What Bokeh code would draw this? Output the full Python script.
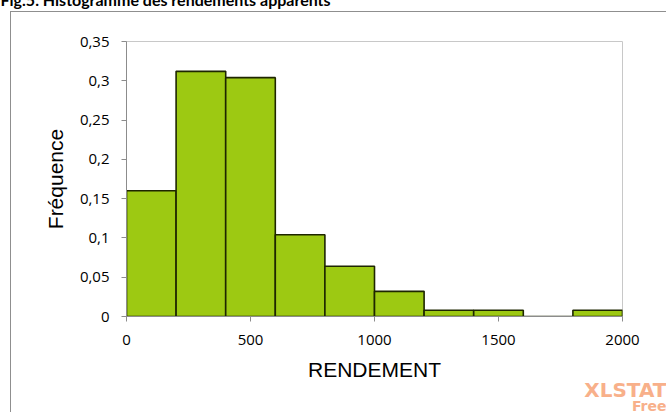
from bokeh.plotting import figure
from bokeh.models import FixedTicker, Range1d, Title
from bokeh.embed import file_html
from bokeh.resources import INLINE

# ---- data ----
bin_left = [0, 200, 400, 600, 800, 1000, 1200, 1400, 1600, 1800]
bin_right = [200, 400, 600, 800, 1000, 1200, 1400, 1600, 1800, 2000]
frequence = [0.16, 0.312, 0.304, 0.104, 0.064, 0.032, 0.008, 0.008, 0.0, 0.008]
y_ticks = [0, 0.05, 0.1, 0.15, 0.2, 0.25, 0.3, 0.35]
y_tick_labels = ["0", "0,05", "0,1", "0,15", "0,2", "0,25", "0,3", "0,35"]
x_ticks = [0, 500, 1000, 1500, 2000]
x_tick_labels = ["0", "500", "1000", "1500", "2000"]
title_text = "Fig.5. Histogramme des rendements apparents"

SHIFT = 50      # hidden strip above the page top (title is cut like the reference)
EXTRA = 30      # hidden strip below the page bottom
W, H = 666, 412 + SHIFT + EXTRA
p = figure(width=W, height=H, output_backend="svg", toolbar_location=None,
           x_range=Range1d(0, 2000), y_range=Range1d(0, 0.35),
           min_border_left=126, min_border_right=44,
           min_border_top=41 + SHIFT, min_border_bottom=96 + EXTRA,
           x_axis_label="RENDEMENT", y_axis_label="Fréquence")
p.margin = (-SHIFT, 0, -EXTRA, 0)
p.background_fill_color = "white"
p.border_fill_alpha = 0
p.grid.visible = False
p.outline_line_color = "#c8c8c8"
p.outline_line_width = 1

# outer chart frame (left and top edges) drawn behind the transparent border
p.styles = {
    "background-color": "white",
    "background-image": "linear-gradient(#8f8f8f,#8f8f8f), linear-gradient(#8f8f8f,#8f8f8f)",
    "background-repeat": "no-repeat",
    "background-position": "10px %dpx, 10px %dpx" % (11 + SHIFT, 11 + SHIFT),
    "background-size": "1px 2000px, 2000px 1px",
}

p.title.text = title_text
p.title.text_font = "Lato"
p.title.text_font_style = "bold"
p.title.text_font_size = "16px"
p.title.align = "left"
p.title.offset = -126
p.title.standoff = 66
p.title.text_color = "#000000"

p.quad(left=bin_left, right=bin_right, bottom=0, top=frequence,
       fill_color="#9dc912", line_color="#1e2600", line_width=1.6)

for ax in (p.xaxis[0], p.yaxis[0]):
    ax.axis_line_color = "#8c8c8c"
    ax.major_tick_line_color = "#8c8c8c"
    ax.minor_tick_line_color = None
    ax.major_tick_in = 0
    ax.major_tick_out = 5
    ax.major_label_text_font = "Open Sans"
    ax.major_label_text_font_size = "15px"
    ax.major_label_text_color = "#000000"
    ax.axis_label_text_font = "Liberation Sans"
    ax.axis_label_text_font_size = "21px"
    ax.axis_label_text_font_style = "normal"
    ax.axis_label_text_color = "#000000"

p.yaxis.ticker = FixedTicker(ticks=y_ticks)
p.yaxis.major_label_overrides = {t: l for t, l in zip(y_ticks, y_tick_labels)}
p.xaxis.ticker = FixedTicker(ticks=x_ticks)
p.xaxis.major_label_overrides = {t: l for t, l in zip(x_ticks, x_tick_labels)}
p.yaxis.major_label_standoff = 12
p.yaxis.axis_label_standoff = 10
p.xaxis.major_label_standoff = 13
p.xaxis.axis_label_standoff = 10

# XLSTAT watermark as bottom titles
t1 = Title(text="XLSTAT", align="right", offset=-44, vertical_align="top",
           text_font="DejaVu Sans", text_font_style="bold", text_font_size="20px",
           text_color="#f8b08a")
try:
    t1.standoff = -12
except Exception:
    t1.standoff = 0
t2 = Title(text="Free", align="right", offset=-44, vertical_align="top", standoff=0,
           text_font="DejaVu Sans", text_font_style="bold", text_font_size="14px",
           text_color="#f8b08a")
p.add_layout(t1, "below")
p.add_layout(t2, "below")

open("out.html", "w").write(file_html(p, INLINE))
